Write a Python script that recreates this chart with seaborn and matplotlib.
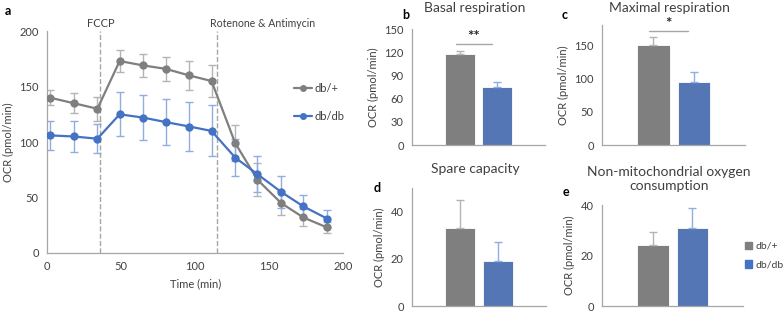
import numpy as np
import pandas as pd
import matplotlib
matplotlib.use("Agg")
import matplotlib.pyplot as plt
import seaborn as sns
from matplotlib.lines import Line2D
from matplotlib.patches import Patch

# --- data ---
time_min = [2, 18, 34, 49, 65, 80, 96, 111, 127, 142, 158, 173, 189]
ocr_het = [140, 135, 130, 173, 169, 166, 160, 155, 99, 66, 45, 32, 23]
err_het = [7, 9, 11, 10, 10, 11, 13, 14, 16, 15, 11, 8, 5]
ocr_dbdb = [106, 105, 103, 125, 122, 118, 114, 110, 86, 71, 55, 42, 31]
err_dbdb = [13, 14, 13, 20, 20, 21, 22, 23, 17, 16, 14, 10, 8]

groups = ["db/+", "db/db"]
basal = [118, 75]
basal_err = [4, 7]
maximal = [150, 94]
maximal_err = [12, 15]
spare = [33, 19]
spare_err = [12, 8]
nonmito = [24, 31]
nonmito_err = [5.5, 8]

grey = "#7f7f7f"
blue = "#4472c4"
grey_err = "#b4b4b4"
blue_err = "#8fade0"
spine_c = "#a6a6a6"
txt_c = "#404040"

sns.set_style("white")
plt.rcParams["font.family"] = ["Lato", "DejaVu Sans"]
plt.rcParams["font.size"] = 8
plt.rcParams["text.color"] = txt_c
plt.rcParams["axes.labelcolor"] = txt_c
plt.rcParams["xtick.color"] = txt_c
plt.rcParams["ytick.color"] = txt_c

fig = plt.figure(figsize=(7.84, 3.13), dpi=100)


def style_axes(ax):
    for s in ["top", "right"]:
        ax.spines[s].set_visible(False)
    for s in ["left", "bottom"]:
        ax.spines[s].set_color(spine_c)
        ax.spines[s].set_linewidth(0.9)
    ax.tick_params(axis="y", length=3, color=spine_c, width=0.8, pad=3, labelsize=8)
    ax.tick_params(axis="x", length=3, color=spine_c, width=0.8, pad=3, labelsize=8)


# ---------- panel a ----------
ax = fig.add_axes([0.060, 0.1917, 0.378, 0.709])
df = pd.DataFrame({
    "time": time_min * 2,
    "ocr": ocr_het + ocr_dbdb,
    "group": ["db/+"] * len(time_min) + ["db/db"] * len(time_min),
})
ax.errorbar(time_min, ocr_het, yerr=err_het, fmt="none", ecolor=grey_err,
            elinewidth=1, capsize=3, capthick=1, zorder=1)
ax.errorbar(time_min, ocr_dbdb, yerr=err_dbdb, fmt="none", ecolor=blue_err,
            elinewidth=1, capsize=3, capthick=1, zorder=1)
sns.lineplot(data=df, x="time", y="ocr", hue="group", palette=[grey, blue],
             marker="o", markersize=6, markeredgewidth=0, linewidth=1.6,
             ax=ax, legend=False, zorder=3)
ax.axvline(36, color="#a6a6a6", ls="--", lw=1, zorder=0)
ax.axvline(115, color="#a6a6a6", ls="--", lw=1, zorder=0)
ax.text(36, 202, "FCCP", ha="center", va="bottom", fontsize=8)
ax.text(110, 202, "Rotenone & Antimycin", ha="left", va="bottom", fontsize=7.6)
ax.set_xlim(0, 200)
ax.set_ylim(0, 200)
ax.set_xticks([0, 50, 100, 150, 200])
ax.set_yticks([0, 50, 100, 150, 200])
ax.set_xlabel("Time (min)", fontsize=8, labelpad=4)
ax.set_ylabel("OCR (pmol/min)", fontsize=8, labelpad=4)
style_axes(ax)
handles = [Line2D([], [], color=grey, marker="o", markersize=4, lw=1.6),
           Line2D([], [], color=blue, marker="o", markersize=4, lw=1.6)]
ax.legend(handles, groups, loc="upper left", bbox_to_anchor=(0.8, 0.81),
          frameon=False, fontsize=8, handlelength=1.6, handletextpad=0.2,
          labelspacing=1.5)
fig.text(0.006, 0.952, "a", fontsize=9, fontweight="bold", color="black")


def bar_panel(rect, vals, errs, ylim, yticks, title, title_y, label, label_xy,
              bracket=None):
    ax = fig.add_axes(rect)
    d = pd.DataFrame({"group": groups, "val": vals})
    sns.barplot(data=d, x="group", y="val", hue="group", palette=[grey, blue],
                width=0.8, edgecolor="white", linewidth=0.6, ax=ax,
                legend=False)
    cols = [grey_err, blue_err]
    for i in range(2):
        ax.errorbar(i, vals[i], yerr=[[0], [errs[i]]], fmt="none",
                    ecolor=cols[i], elinewidth=1, capsize=3, capthick=1)
    ax.set_xlim(-1.28, 2.28)
    ax.set_ylim(*ylim)
    ax.set_yticks(yticks)
    ax.set_xticks([])
    ax.set_xlabel("")
    ax.set_ylabel("OCR (pmol/min)", fontsize=8, labelpad=4)
    style_axes(ax)
    ax.tick_params(axis="x", length=0)
    fig.text(rect[0] + rect[2] / 2 - 0.005, title_y, title, ha="center",
             va="top", fontsize=10, linespacing=1.25)
    fig.text(label_xy[0], label_xy[1], label, fontsize=9, fontweight="bold",
             color="black")
    if bracket is not None:
        yb, stars = bracket
        ax.plot([-0.1, 0.85], [yb, yb], color="#a6a6a6", lw=1, clip_on=False)
        ax.text(0.38, yb, stars, ha="center", va="bottom", fontsize=11,
                fontweight="bold", color="#262626")
    return ax


bar_panel([0.5255, 0.5367, 0.1696, 0.3706], basal, basal_err, (0, 150),
          [0, 30, 60, 90, 120, 150], "Basal respiration", 0.995, "b",
          (0.513, 0.938), bracket=(130, "**"))
bar_panel([0.7679, 0.5367, 0.1824, 0.383], maximal, maximal_err, (0, 180),
          [0, 50, 100, 150], "Maximal respiration", 0.995, "c",
          (0.716, 0.938), bracket=(171, "*"))
bar_panel([0.5255, 0.022, 0.171, 0.377], spare, spare_err, (0, 50),
          [0, 20, 40], "Spare capacity", 0.48, "d", (0.476, 0.385))
ax_e = bar_panel([0.7679, 0.022, 0.18, 0.323], nonmito, nonmito_err, (0, 40),
                 [0, 20, 40], "Non-mitochondrial oxygen\nconsumption", 0.47,
                 "e", (0.718, 0.375))
ax_e.legend([Patch(color=grey), Patch(color=blue)], groups, loc="center left",
            bbox_to_anchor=(0.97, 0.5), frameon=False, fontsize=7.5,
            handlelength=0.7, handleheight=0.7, handletextpad=0.25,
            labelspacing=0.9, borderaxespad=0.2)

fig.savefig("out.png", dpi=100)
